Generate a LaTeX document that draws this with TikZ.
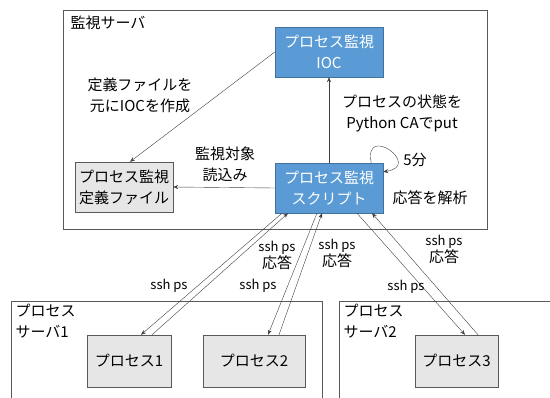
\documentclass[tikz,border=0pt]{standalone}
\usepackage{fontspec}
\setmainfont{Noto Sans CJK JP}
\usepackage{tikz}
\usetikzlibrary{arrows.meta}
\usepackage{xcolor}
\definecolor{boxblue}{HTML}{5B9BD5}
\definecolor{boxedge}{HTML}{41719C}
\definecolor{boxgray}{HTML}{E7E6E6}
\definecolor{framegray}{HTML}{595959}

\begin{document}
\begin{tikzpicture}[x=1pt,y=-1pt,>={Stealth[length=5pt,width=4pt]},font=\fontsize{15}{21}\selectfont]
\useasboundingbox (0,0) rectangle (550,398);
\clip (0,0) rectangle (550,398);

% servers
\draw[framegray] (63,10) rectangle (487,229);
\draw[framegray] (11,301) rectangle (322,420);
\draw[framegray] (339,301) rectangle (570,420);
\node (T) [anchor=west] at (67,23) {監視サーバ};
\node (T1)[anchor=north west,align=left] at (12,301) {プロセス\\サーバ1};
\node (T2)[anchor=north west,align=left] at (340,301) {プロセス\\サーバ2};

\begin{scope}[every node/.style={draw,minimum height=50pt,align=center,inner sep=0pt}]
    \node (I)[fill=boxblue,draw=boxedge,text=white,minimum width=108pt] at (329,52) {プロセス監視\\IOC};
    \node (S)[fill=boxblue,draw=boxedge,text=white,minimum width=108pt] at (329,188) {プロセス監視\\スクリプト};
    \node (D)[fill=boxgray,draw=framegray,minimum width=98pt] at (124,187) {プロセス監視\\定義ファイル};
    \node (P1)[fill=boxgray,draw=framegray,minimum width=84pt,minimum height=52pt] at (129,361) {プロセス1};
    \node (P2)[fill=boxgray,draw=framegray,minimum width=102pt,minimum height=52pt] at (254,361) {プロセス2};
    \node (P3)[fill=boxgray,draw=framegray,minimum width=83pt,minimum height=52pt] at (456.5,361) {プロセス3};
\end{scope}

\begin{scope}[every edge/.style={draw=black!75,->}]
    \path (I.west) edge ([xshift=6pt]D.north);
    \path (S.north) edge (I.south);
    \path (S.west) edge (D.east);
    \path ([xshift=-47pt]S.south) edge ([xshift=12pt]P1.north);
    \path ([xshift=23pt]P1.north) edge ([xshift=-41pt]S.south);
    \path ([xshift=-12pt]S.south) edge ([xshift=14pt]P2.north);
    \path ([xshift=25pt]P2.north) edge ([xshift=-7pt]S.south);
    \path ([xshift=28pt]S.south) edge ([xshift=8.5pt]P3.north);
    \path ([xshift=21.5pt]P3.north) edge ([xshift=43pt]S.south);
\end{scope}
\draw[black!75,->] ([xshift=-12pt]S.north east) .. controls +(-8,-40) and +(40,-6) .. ([yshift=-9pt]S.north east);

% labels
\node (L1)[align=center] at (140,95) {定義ファイルを\\元にIOCを作成};
\node (L2)[align=center] at (402,113) {プロセスの状態を\\Python CAでput};
\node (L3) at (415,160) {5分};
\node (L4) at (430,198) {応答を解析};
\node (L5)[align=center] at (225,164) {監視対象\\読込み};
\begin{scope}[every node/.style={align=center,font=\fontsize{13}{17}\selectfont}]
    \node (R1) at (169,286) {ssh ps};
    \node (R2) at (277,255) {ssh ps\\{\fontsize{15}{17}\selectfont 応答}};
    \node (R3) at (258,286) {ssh ps};
    \node (R4) at (337,253) {ssh ps\\{\fontsize{15}{17}\selectfont 応答}};
    \node (R5) at (444,249) {ssh ps\\{\fontsize{15}{17}\selectfont 応答}};
    \node (R6) at (406,287) {ssh ps};
\end{scope}
\end{tikzpicture}
\end{document}
